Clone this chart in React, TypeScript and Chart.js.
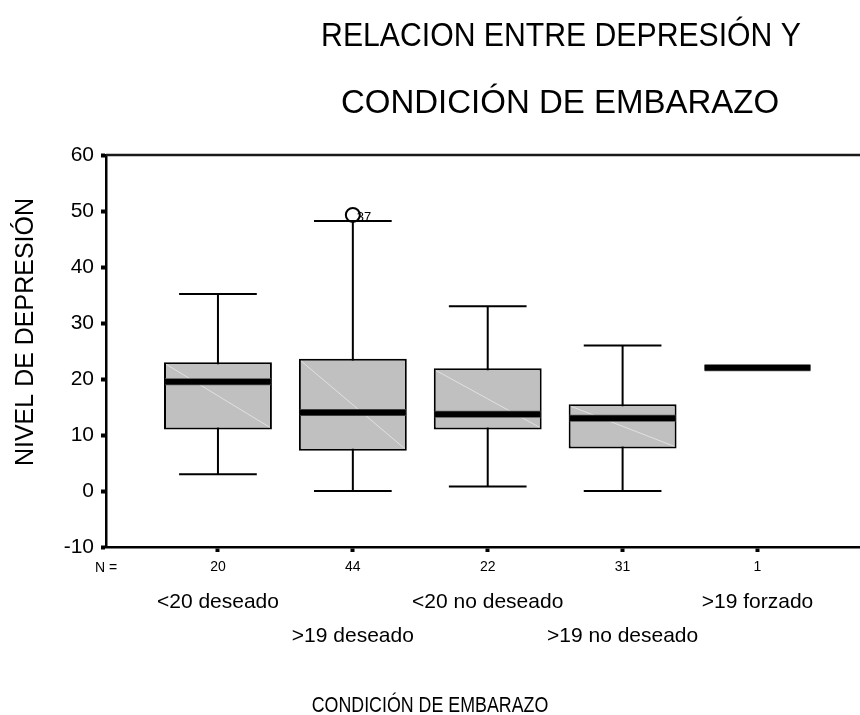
import React, { useEffect, useRef } from "react";
import { Chart, registerables } from "chart.js";

Chart.register(...registerables);

const categories = ["<20 deseado", ">19 deseado", "<20 no deseado", ">19 no deseado", ">19 forzado"];
const nCounts = [20, 44, 22, 31, 1];
const whiskerLow = [3, 0, 0.8, 0, 22];
const q1 = [11, 7.2, 11, 7.6, 22];
const median = [19.5, 14, 13.7, 13, 22];
const q3 = [23, 23.6, 21.9, 15.5, 22];
const whiskerHigh = [35.2, 48.2, 33, 26, 22];
const outlierGroup = [2];
const outlierValue = [49.3];
const outlierLabel = ["37"];
const titleLines = ["RELACION ENTRE DEPRESIÓN Y", "CONDICIÓN DE EMBARAZO"];
const xTitle = "CONDICIÓN DE EMBARAZO";
const yTitle = "NIVEL DE DEPRESIÓN";

const FONT = "'Liberation Sans', Arial, Helvetica, sans-serif";

function drawScaledText(ctx: any, text: string, x: number, y: number, sx: number) {
  ctx.save();
  ctx.translate(x, y);
  ctx.scale(sx, 1);
  ctx.fillText(text, 0, 0);
  ctx.restore();
}

const boxPlugin = {
  id: "boxExtras",
  beforeDatasetsDraw(chart: any) {
    const { ctx, chartArea, scales } = chart;
    const x = scales.x;
    const y = scales.y;
    const meta = chart.getDatasetMeta(0);
    ctx.save();
    // top frame line
    ctx.strokeStyle = "#1a1a1a";
    ctx.lineWidth = 2.5;
    ctx.beginPath();
    ctx.moveTo(chartArea.left, chartArea.top);
    ctx.lineTo(chartArea.right, chartArea.top);
    ctx.stroke();
    // whiskers
    ctx.strokeStyle = "#000";
    ctx.lineWidth = 2;
    categories.forEach((_, i) => {
      if (whiskerHigh[i] === whiskerLow[i]) return;
      const el = meta.data[i];
      const cx = x.getPixelForValue(i + 1);
      const half = el.width * 0.36;
      const yl = y.getPixelForValue(whiskerLow[i]);
      const yh = y.getPixelForValue(whiskerHigh[i]);
      ctx.beginPath();
      ctx.moveTo(cx, yl);
      ctx.lineTo(cx, yh);
      ctx.moveTo(cx - half, yl);
      ctx.lineTo(cx + half, yl);
      ctx.moveTo(cx - half, yh);
      ctx.lineTo(cx + half, yh);
      ctx.stroke();
    });
    ctx.restore();
  },
  afterDatasetsDraw(chart: any) {
    const { ctx, scales } = chart;
    const x = scales.x;
    const y = scales.y;
    const meta = chart.getDatasetMeta(0);
    ctx.save();
    categories.forEach((_, i) => {
      const el = meta.data[i];
      const cx = x.getPixelForValue(i + 1);
      const w = el.width;
      const top = y.getPixelForValue(q3[i]);
      const bot = y.getPixelForValue(q1[i]);
      if (bot - top > 4) {
        ctx.strokeStyle = "rgba(235,235,235,0.75)";
        ctx.lineWidth = 1;
        ctx.beginPath();
        ctx.moveTo(cx - w / 2 + 2, top + 2);
        ctx.lineTo(cx + w / 2 - 2, bot - 2);
        ctx.stroke();
      }
      const ym = y.getPixelForValue(median[i]);
      ctx.strokeStyle = "#555";
      ctx.lineWidth = 7;
      ctx.beginPath();
      ctx.moveTo(cx - w / 2 + 1, ym);
      ctx.lineTo(cx + w / 2 - 1, ym);
      ctx.stroke();
      ctx.strokeStyle = "#000";
      ctx.lineWidth = 5.5;
      ctx.beginPath();
      ctx.moveTo(cx - w / 2 + 1, ym);
      ctx.lineTo(cx + w / 2 - 1, ym);
      ctx.stroke();
    });
    // outlier labels
    ctx.fillStyle = "#000";
    ctx.font = `13px ${FONT}`;
    ctx.textAlign = "left";
    ctx.textBaseline = "middle";
    outlierGroup.forEach((g, k) => {
      const px = x.getPixelForValue(g);
      const py = y.getPixelForValue(outlierValue[k]);
      ctx.fillText(outlierLabel[k], px + 4, py + 3);
    });
    ctx.restore();
  },
  afterDraw(chart: any) {
    const { ctx, chartArea, scales } = chart;
    const x = scales.x;
    ctx.save();
    ctx.fillStyle = "#000";
    // title
    ctx.font = `33px ${FONT}`;
    ctx.textAlign = "center";
    ctx.textBaseline = "middle";
    drawScaledText(ctx, titleLines[0], 561, 37, 0.915);
    ctx.fillText(titleLines[1], 560, 104);
    // N =
    ctx.font = `14px ${FONT}`;
    ctx.fillText("N =", chartArea.left, chartArea.bottom + 21);
    // category labels (staggered)
    ctx.font = `21px ${FONT}`;
    categories.forEach((c, i) => {
      const cx = x.getPixelForValue(i + 1);
      const yy = chartArea.bottom + (i % 2 === 0 ? 55 : 89);
      ctx.fillText(c, cx, yy);
    });
    // x title
    ctx.font = `22px ${FONT}`;
    drawScaledText(ctx, xTitle, 430, chartArea.bottom + 159, 0.81);
    // y title
    ctx.save();
    ctx.translate(26, 332);
    ctx.rotate(-Math.PI / 2);
    ctx.font = `25px ${FONT}`;
    ctx.fillText(yTitle, 0, 0);
    ctx.restore();
    ctx.restore();
  },
};

export default function App() {
  const ref = useRef<HTMLCanvasElement | null>(null);
  useEffect(() => {
    if (!ref.current) return;
    const chart = new Chart(ref.current, {
      type: "bar",
      data: {
        datasets: [
          {
            type: "bar",
            data: categories.map((_, i) => ({ x: i + 1, y: [q1[i], q3[i]] })) as any,
            backgroundColor: "#c0c0c0",
            borderColor: "#000",
            borderWidth: 2,
            borderSkipped: false,
            categoryPercentage: 0.8,
            barPercentage: 1,
            order: 2,
          } as any,
          {
            type: "scatter",
            data: outlierGroup.map((g, k) => ({ x: g, y: outlierValue[k] })),
            pointStyle: "circle",
            pointRadius: 7,
            borderColor: "#000",
            borderWidth: 2,
            backgroundColor: "rgba(255,255,255,0)",
            clip: false,
            order: 0,
          } as any,
        ],
      },
      options: {
        animation: false,
        responsive: false,
        maintainAspectRatio: false,
        devicePixelRatio: 1,
        layout: { autoPadding: false, padding: { top: 155, left: 0, right: 0, bottom: 0 } },
        plugins: { legend: { display: false }, tooltip: { enabled: false }, title: { display: false } },
        scales: {
          x: {
            type: "linear",
            position: "bottom",
            offset: false,
            min: 0.17,
            max: 5.76,
            afterBuildTicks: (s: any) => {
              s.ticks = nCounts.map((_, i) => ({ value: i + 1 }));
            },
            afterFit: (s: any) => {
              s.height = 168;
              s.paddingRight = 0;
              s.paddingLeft = 0;
            },
            ticks: {
              callback: (_v: any, idx: number) => String(nCounts[idx]),
              font: { family: FONT, size: 14 },
              color: "#000",
              padding: 7,
              maxRotation: 0,
              autoSkip: false,
            },
            grid: { display: true, offset: false, drawOnChartArea: false, drawTicks: true, tickLength: 5, tickWidth: 4, tickColor: "#000" },
            border: { display: true, color: "#000", width: 2.5 },
          },
          y: {
            min: -10,
            max: 60,
            afterFit: (s: any) => {
              s.width = 106;
              s.paddingLeft = 0;
              s.paddingRight = 0;
            },
            ticks: {
              stepSize: 10,
              font: { family: FONT, size: 21 },
              color: "#000",
              padding: 7,
            },
            grid: { display: true, drawOnChartArea: false, drawTicks: true, tickLength: 5, tickWidth: 4, tickColor: "#000" },
            border: { display: true, color: "#000", width: 2.5 },
          },
        },
      } as any,
      plugins: [boxPlugin],
    });
    return () => chart.destroy();
  }, []);
  return (
    <div style={{ position: "fixed", left: 0, top: 0, width: 860, height: 715, background: "#fff" }}>
      <canvas ref={ref} width={860} height={715} style={{ display: "block" }} />
    </div>
  );
}
